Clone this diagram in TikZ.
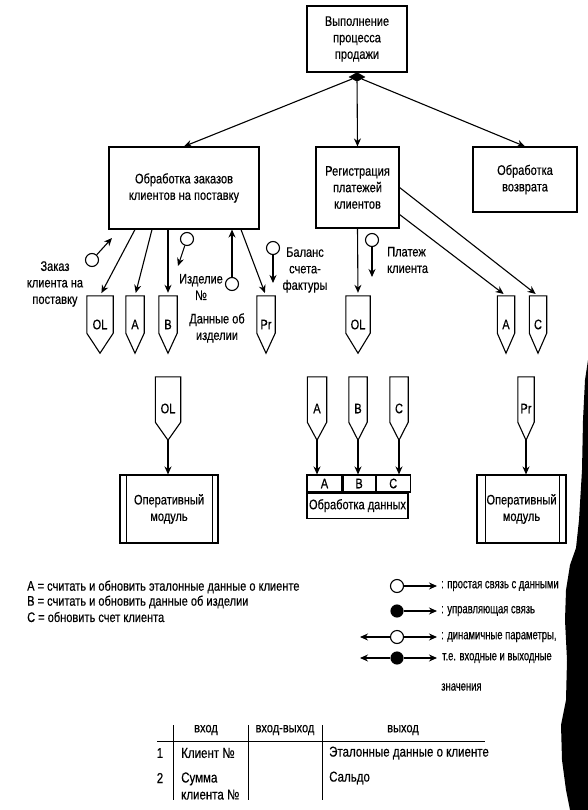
\documentclass[tikz,border=0pt]{standalone}
\usepackage{fontspec}
\setmainfont{Liberation Sans}[FakeStretch=0.8, FakeBold=0.4]
\usetikzlibrary{positioning, arrows.meta, shapes.geometric}

\begin{document}
\begin{tikzpicture} [x = 1pt, y = -1pt,
			node distance = 35pt,
			on grid,
			font = \fontsize{13.8}{16.5}\selectfont,
			every node/.style = {inner sep = 1pt},
			proc/.style = {draw, line width = 1.1pt, align = center},
			module/.style = {proc, minimum width = #1, minimum height = 68pt},
			datadoc/.style n args = {3}{minimum width = #1, minimum height = #2,
				inner sep = 0pt,
				append after command = {\pgfextra{\let\docnode\tikzlastnode
					\draw [line width = 1.1pt] (\docnode.north west)
					-- ([yshift = #3]\docnode.south west) -- (\docnode.south)
					-- ([yshift = #3]\docnode.south east) -- (\docnode.north east) -- cycle;}}
			},
			opendot/.style = {circle, draw, line width = 1.1pt, fill = white,
				minimum size = 13pt, inner sep = 0pt},
			fulldot/.style = {opendot, fill = black, minimum size = 12pt},
			flow/.style = {line width = 1.1pt, -{Stealth[length = 8pt, width = 7pt]}},
			keytext/.style = {anchor = west, font = \fontsize{13.5}{16}\selectfont\addfontfeature{FakeStretch=0.7}},
			tabtext/.style = {font = \fontsize{14.4}{17}\selectfont}
			]
			\useasboundingbox (0,0) rectangle (588,810);
			% scan edge
			\fill (588,360) -- (585,380) -- (583,420) -- (582,470) -- (579,520)
			-- (576,548) -- (570,565) -- (566,590) -- (565,620) -- (567,660)
			-- (566,700) -- (561,725) -- (562,760) -- (566,790) -- (570,810)
			-- (588,810) -- cycle;
			% Processes
			\node (sale) [proc, minimum width = 100pt, minimum height = 66pt] at (357,39)
				{Выполнение\\процесса\\продажи};
			\node (ctl) [diamond, fill, draw, aspect = 1.8, inner sep = 0pt,
				minimum width = 16pt, minimum height = 9pt] at (357,77) {};
			\node (orders) [proc, minimum width = 150pt, minimum height = 82pt] at (184,188)
				{Обработка заказов\\клиентов на поставку};
			\node (payments) [proc, minimum width = 83pt, minimum height = 81pt] at (357.5,187.5)
				{Регистрация\\платежей\\клиентов};
			\node (returns) [proc, minimum width = 104pt, minimum height = 65pt] at (525,179.5)
				{Обработка\\возврата};
			% Data
			\node (OLa) [datadoc = {26pt}{57pt}{20pt}] at (100,324.5) {OL};
			\node (Aa) [datadoc = {18pt}{57pt}{20pt}, right = of OLa] {A};
			\node (Ba) [datadoc = {18pt}{57pt}{20pt}, right = 33pt of Aa] {B};
			\node (Pra) [datadoc = {18pt}{57pt}{20pt}, right = 98pt of Ba] {Pr};
			\node (OLb) [datadoc = {24pt}{57pt}{20pt}, right = 92pt of Pra] {OL};
			\node (Ab) [datadoc = {17pt}{57pt}{20pt}, right = 148pt of OLb] {A};
			\node (Cb) [datadoc = {17pt}{57pt}{20pt}, right = 32pt of Ab] {C};
			
			\node (OLc) [datadoc = {25pt}{63pt}{18pt}] at (168,408.5) {OL};
			\node (Ac) [datadoc = {19pt}{63pt}{18pt}] at (317,408.5) {A};
			\node (Bc) [datadoc = {18pt}{63pt}{18pt}, right = 41pt of Ac] {B};
			\node (Cc) [datadoc = {18pt}{63pt}{18pt}, right = 41pt of Bc] {C};
			\node (Prc) [datadoc = {16pt}{63pt}{18pt}] at (526,408.5) {Pr};
			% Modules
			\node (modOL) [module = 98pt] at (169,509) {Оперативный\\модуль};
			\node (modPr) [module = 89pt] at (521.5,509) {Оперативный\\модуль};
			\node (cellA) [draw, line width = 1.1pt, minimum width = 35pt, minimum height = 17pt,
				inner sep = 0pt] at (324.5,483.5) {A};
			\node (cellB) [draw, line width = 1.1pt, minimum width = 32pt, minimum height = 17pt,
				inner sep = 0pt, anchor = west] at (cellA.east) {B};
			\node (cellC) [draw, line width = 1.1pt, minimum width = 34pt, minimum height = 17pt,
				inner sep = 0pt, anchor = west] at (cellB.east) {C};
			\node (proc) [draw, line width = 1.1pt, minimum width = 101pt, minimum height = 25pt,
				inner sep = 0pt, anchor = north west] at (cellA.south west) {Обработка данных};
			\draw [line width = 1.1pt] ([xshift = 7pt]modOL.north west) -- ([xshift = 7pt]modOL.south west)
			([xshift = -6pt]modOL.north east) -- ([xshift = -6pt]modOL.south east)
			([xshift = 9pt]modPr.north west) -- ([xshift = 9pt]modPr.south west)
			([xshift = -7pt]modPr.north east) -- ([xshift = -7pt]modPr.south east);
			% Couples
			\node (cOrder) [opendot] at (92,260) {};
			\coordinate (cOrderEnd) at (112,238);
			\node (cItem) [opendot] at (187,239) {};
			\coordinate (cItemEnd) at (178,266);
			\node (cItemNo) [opendot] at (232,284) {};
			\node (cBalance) [opendot] at (273,248) {};
			\coordinate (cBalanceEnd) at (273,283);
			\node (cPay) [opendot] at (372,240) {};
			\coordinate (cPayEnd) at (372,277);
			% Labels
			\node (lOrder) [align = center] at (55,284) {Заказ\\клиента на\\поставку};
			\node (lItem) [align = center] at (201,287) {Изделие\\№};
			\node (lItemData) [align = center] at (217,328) {Данные об\\изделии};
			\node (lBalance) [align = center] at (305,270) {Баланс\\счета-\\фактуры};
			\node (lPay) [align = left, anchor = west] at (386,260) {Платеж\\клиента};
			%Connections
			\path [flow]
			(ctl) edge (orders.north)
			(ctl) edge (payments.north)
			(ctl) edge (returns.north);
			\path [flow, shorten > = 3pt]
			([xshift = -49pt]orders.south) edge (OLa.north)
			([xshift = -32pt]orders.south) edge (Aa.north)
			([xshift = -16pt]orders.south) edge (Ba.north)
			([xshift = 57pt]orders.south) edge (Pra.north)
			(payments.south) edge (OLb.north)
			([yshift = -27pt]payments.east) edge (Ab.north)
			(payments.east) edge (Cb.north);
			\path [flow]
			(cOrder) edge (cOrderEnd)
			(cItem) edge (cItemEnd)
			(cItemNo) edge (cItemNo |- orders.south)
			(cBalance) edge (cBalanceEnd)
			(cPay) edge (cPayEnd)
			(OLc.south) edge (OLc.south |- modOL.north)
			(Ac.south) edge (Ac.south |- cellA.north)
			(Bc.south) edge (Bc.south |- cellB.north)
			(Cc.south) edge (Cc.south |- cellC.north)
			(Prc.south) edge (Prc.south |- modPr.north);
			% Key
			\node (keyA) [anchor = west] at (26,587) {A = считать и обновить эталонные данные о клиенте};
			\node (keyB) [anchor = west] at (26,602) {B = считать и обновить данные об изделии};
			\node (keyC) [anchor = west] at (26,617) {C = обновить счет клиента};
			
			\node (kSimple) [opendot] at (397,586) {};
			\coordinate (kSimpleEnd) at (437,586);
			\node (kCtl) [fulldot] at (397,611) {};
			\coordinate (kCtlEnd) at (437,611);
			\node (kDyn) [opendot] at (397,637) {};
			\coordinate (kDynL) at (360,637);
			\coordinate (kDynR) at (437,637);
			\node (kDynC) [fulldot] at (397,658) {};
			\coordinate (kDynCL) at (360,658);
			\coordinate (kDynCR) at (437,658);
			\path [flow]
			(kSimple) edge (kSimpleEnd)
			(kCtl) edge (kCtlEnd)
			(kDyn) edge (kDynL)
			(kDyn) edge (kDynR)
			(kDynC) edge (kDynCL)
			(kDynC) edge (kDynCR);
			\node (tSimple) [keytext] at (440,586) {: простая связь с данными};
			\node (tCtl) [keytext] at (440,611) {: управляющая связь};
			\node (tDyn) [keytext] at (440,637) {: динамичные параметры,};
			\node (tDynC) [keytext] at (441,658) {т.е. входные и выходные};
			\node (tVal) [keytext] at (440,687) {значения};
			% Table
			\draw [line width = 1pt] (157,741) -- (485,741)
			(173,725) -- (173,800) (248,725) -- (248,800) (322,725) -- (322,800);
			\node (hIn) at (206,730) {вход};
			\node (hInOut) at (285,730) {вход-выход};
			\node (hOut) at (403,730) {выход};
			\node (rowA) [tabtext] at (160,753) {1};
			\node (rowAin) [tabtext, anchor = west] at (180,753) {Клиент №};
			\node (rowAout) [tabtext, anchor = west] at (328,753) {Эталонные данные о клиенте};
			\node (rowB) [tabtext] at (160,778) {2};
			\node (rowBin) [tabtext, anchor = west, align = left] at (180,786) {Сумма\\клиента №};
			\node (rowBout) [tabtext, anchor = west] at (328,778) {Сальдо};
		\end{tikzpicture}
\end{document}
